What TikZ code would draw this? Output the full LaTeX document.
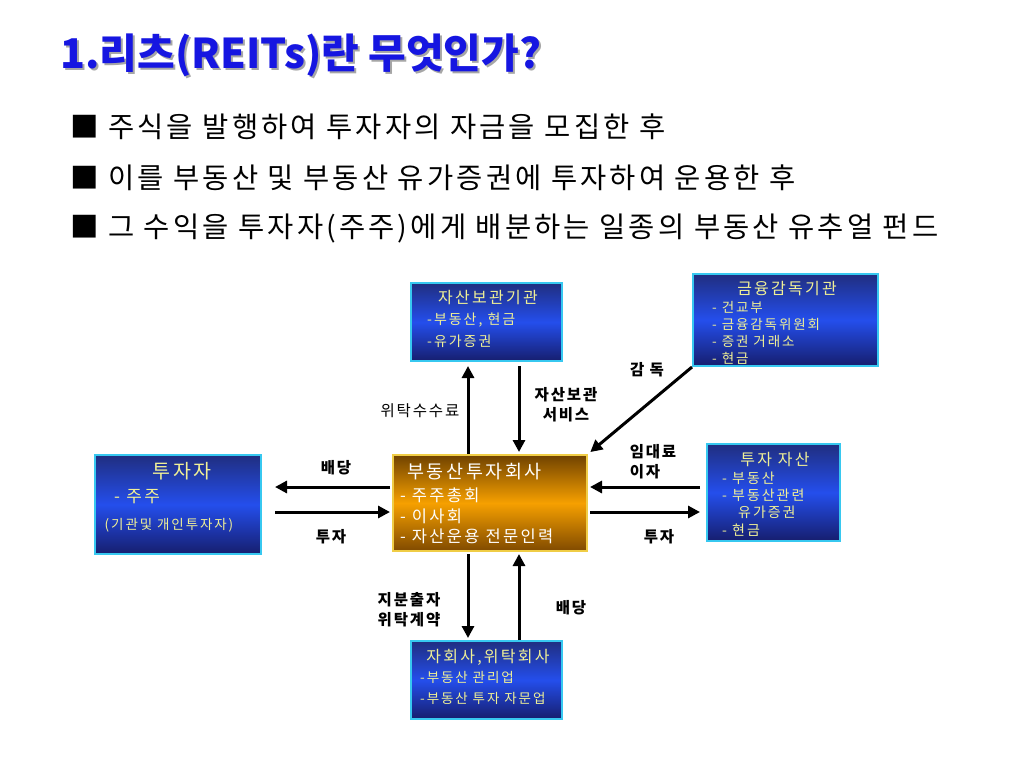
\documentclass[tikz,border=0pt]{standalone}
\usepackage{fontspec}
\setmainfont{Noto Sans CJK KR}
\newfontfamily\bulfont{Noto Sans CJK KR}[LetterSpace=11]
\newfontfamily\boxfont{Noto Sans CJK KR}[LetterSpace=14]
\newfontfamily\lblfont{Noto Sans CJK KR}[LetterSpace=12]
\usepackage{tikz}
\usetikzlibrary{arrows.meta}
\definecolor{ttlblue}{RGB}{22,22,225}
\definecolor{boxtop}{RGB}{32,46,128}
\definecolor{boxmid}{RGB}{36,78,236}
\definecolor{boxbot}{RGB}{22,30,110}
\definecolor{boxline}{RGB}{55,200,240}
\definecolor{orgtop}{RGB}{112,66,0}
\definecolor{orgmid}{RGB}{246,160,0}
\definecolor{orgbot}{RGB}{128,74,0}
\definecolor{orgline}{RGB}{240,205,70}
\definecolor{boxtxt}{RGB}{240,240,150}
\newcommand{\bfsize}[1]{\fontsize{#1}{#1}\selectfont}
\tikzset{
  bluebox/.style={draw=boxline,line width=2pt,top color=boxtop,bottom color=boxbot,middle color=boxmid,inner sep=0pt},
  orgbox/.style={draw=orgline,line width=2pt,top color=orgtop,bottom color=orgbot,middle color=orgmid,inner sep=0pt},
  boxtitle/.style={text=boxtxt,inner sep=0pt,font=\boxfont\bfsize{16}},
  boxitem/.style={text=boxtxt,inner sep=0pt,anchor=west,font=\boxfont\bfsize{14}},
  bullet/.style={anchor=west,inner sep=0pt,font=\bulfont\bfsize{28.5}},
  lbl/.style={inner sep=0pt,align=center,font=\lblfont\bfseries\fontsize{15.5}{20}\selectfont},
  flow/.style={line width=3pt,-{Triangle[length=12pt,width=12pt]}}
}

\begin{document}
\begin{tikzpicture}[x=1pt,y=-1pt]
            \useasboundingbox[fill=white] (0,0) rectangle (1024,768);

            % Title
            \node[anchor=west,inner sep=0pt,text=black!35,font=\bfseries\bfsize{41}] at (62,57) {1.리츠(REITs)란 무엇인가?};
            \node[anchor=west,inner sep=0pt,text=ttlblue,font=\bfseries\bfsize{41}] (title) at (60,55) {1.리츠(REITs)란 무엇인가?};

            % Bullets
            \node[bullet] (b1) at (70,127) {■ 주식을 발행하여 투자자의 자금을 모집한 후};
            \node[bullet] (b2) at (70,178) {■ 이를 부동산 및 부동산 유가증권에 투자하여 운용한 후};
            \node[bullet] (b3) at (70,229) {■ 그 수익을 투자자(주주)에게 배분하는 일종의 부동산 유추얼 펀드};

            % Boxes
            \node[bluebox,minimum width=151,minimum height=78] (store) at (486.5,322) {};
            \node[bluebox,minimum width=185,minimum height=92] (fsa) at (785.5,320) {};
            \node[bluebox,minimum width=166,minimum height=99] (inv) at (178,504.5) {};
            \node[orgbox,minimum width=194,minimum height=96] (reit) at (490,503) {};
            \node[bluebox,minimum width=133,minimum height=97] (asset) at (773.5,492.5) {};
            \node[bluebox,minimum width=151,minimum height=78] (sub) at (486.5,680) {};

            % Box texts
            \node[boxtitle] at (488,298) {자산보관기관};
            \node[boxitem] at (427,320) {-부동산, 현금};
            \node[boxitem] at (427,341) {-유가증권};

            \node[boxtitle] at (787,289) {금융감독기관};
            \node[boxitem,font=\boxfont\bfsize{13.5}] at (712,307) {- 건교부};
            \node[boxitem,font=\boxfont\bfsize{13.5}] at (712,324) {- 금융감독위원회};
            \node[boxitem,font=\boxfont\bfsize{13.5}] at (712,341) {- 증권 거래소};
            \node[boxitem,font=\boxfont\bfsize{13.5}] at (712,358) {- 현금};

            \node[boxtitle,font=\boxfont\bfsize{19.5}] at (182,471) {투자자};
            \node[boxitem,font=\boxfont\bfsize{17}] at (114,497) {- 주주};
            \node[boxtitle,font=\boxfont\bfsize{13.5}] at (169,525) {(기관및 개인투자자)};

            \node[boxitem,text=white,font=\boxfont\bfsize{18.5}] at (407,472) {부동산투자회사};
            \node[boxitem,text=white,font=\boxfont\bfsize{16.5}] at (400,495) {- 주주총회};
            \node[boxitem,text=white,font=\boxfont\bfsize{16.5}] at (400,516) {- 이사회};
            \node[boxitem,text=white,font=\boxfont\bfsize{16.5}] at (400,536) {- 자산운용 전문인력};

            \node[boxtitle] at (775,460) {투자 자산};
            \node[boxitem] at (722,478) {- 부동산};
            \node[boxitem] at (722,495) {- 부동산관련};
            \node[boxitem] at (738,512) {유가증권};
            \node[boxitem] at (722,530) {- 현금};

            \node[boxtitle] at (488,657) {자회사,위탁회사};
            \node[boxitem,font=\boxfont\bfsize{13.5}] at (420,677) {-부동산 관리업};
            \node[boxitem,font=\boxfont\bfsize{13.5}] at (420,698) {-부동산 투자 자문업};

            % Arrow lanes
            \coordinate (lx1) at (468,0);
            \coordinate (lx2) at (519,0);
            \coordinate (ly1) at (0,487);
            \coordinate (ly2) at (0,512);

            % Arrows
            \draw[flow,shorten >=4pt] (reit.north -| lx1) -- (store.south -| lx1);
            \draw[flow,shorten <=4pt,shorten >=2pt] (store.south -| lx2) -- (reit.north -| lx2);
            \draw[flow,shorten >=3pt] (fsa.south west) -- (reit.north east);
            \draw[flow,shorten <=2pt,shorten >=13pt] (reit.west |- ly1) -- (inv.east |- ly1);
            \draw[flow,shorten <=13pt,shorten >=2pt] (inv.east |- ly2) -- (reit.west |- ly2);
            \draw[flow,shorten <=6pt,shorten >=2pt] (asset.west |- ly1) -- (reit.east |- ly1);
            \draw[flow,shorten <=2pt,shorten >=6pt] (reit.east |- ly2) -- (asset.west |- ly2);
            \draw[flow,shorten <=2pt,shorten >=2pt] (reit.south -| lx1) -- (sub.north -| lx1);
            \draw[flow,shorten >=2pt] (sub.north -| lx2) -- (reit.south -| lx2);

            % Labels
            \node[lbl,font=\lblfont\fontsize{15.5}{20}\selectfont] (fee) at (420,411) {위탁수수료};
            \node[lbl] (keep) at (566,405) {자산보관\\서비스};
            \node[lbl] (watch) at (647,370) {감 독};
            \node[lbl] (divl) at (336,468) {배당};
            \node[lbl] (invl) at (331,537) {투자};
            \node[lbl,align=left] (rent) at (653,462) {임대료\\이자};
            \node[lbl] (invr) at (659,537) {투자};
            \node[lbl] (eq) at (409,610) {지분출자\\위탁계약};
            \node[lbl] (divb) at (571,608) {배당};
        \end{tikzpicture}
\end{document}
